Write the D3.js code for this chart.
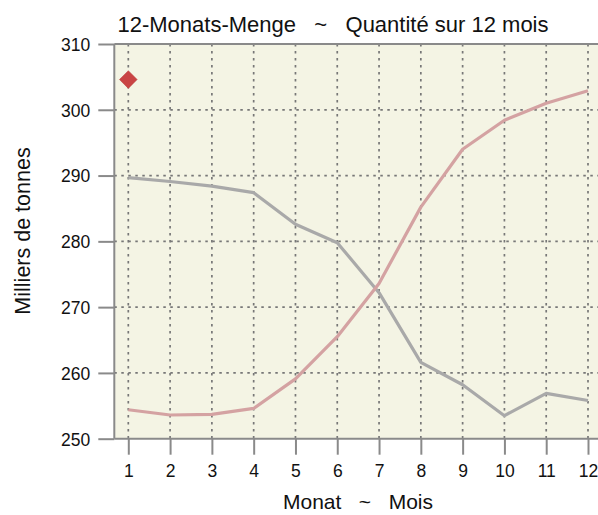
<!DOCTYPE html>
<html>
<head>
<meta charset="utf-8">
<script src="https://cdn.jsdelivr.net/npm/d3@7"></script>
<style>
html,body{margin:0;padding:0;background:#fff;}
svg{display:block;font-family:"Liberation Sans",Arial,sans-serif;}
text{white-space:pre;}
</style>
</head>
<body>
<svg id="chart" width="598" height="515"></svg>
<script>
const months = [1,2,3,4,5,6,7,8,9,10,11,12];
const seriesGray = [289.7, 289.1, 288.4, 287.4, 282.6, 279.8, 272.2, 261.6, 258.2, 253.5, 256.9, 255.8];
const seriesPink = [254.4, 253.6, 253.7, 254.6, 259.1, 265.5, 273.6, 285.2, 294.0, 298.4, 301.0, 302.9];
const markerPoint = [{month: 1, value: 304.6}];
const yTicks = [250, 260, 270, 280, 290, 300, 310];
const titleText = "12-Monats-Menge   ~   Quantité sur 12 mois";
const xTitleText = "Monat   ~   Mois";
const yTitleText = "Milliers de tonnes";

const svg = d3.select("#chart");
const x = d3.scaleLinear().domain([1, 12]).range([128.3, 588]);
const y = d3.scaleLinear().domain([250, 310]).range([438.7, 44]);
const xLeft = x(0.665), xRight = x(12.335);

// background
svg.append("rect").attr("x", xLeft).attr("y", y(310)).attr("width", xRight - xLeft)
  .attr("height", y(250) - y(310)).attr("fill", "#f4f4e4");

// grid
const grid = svg.append("g").attr("stroke", "#777").attr("stroke-width", 1.7).attr("stroke-dasharray", "2.5,4.5");
grid.selectAll("line.v").data(months).join("line")
  .attr("x1", d => x(d)).attr("x2", d => x(d)).attr("y1", y(310)).attr("y2", y(250));
grid.selectAll("line.h").data(yTicks.filter(t => t > 250 && t < 310)).join("line")
  .attr("x1", xLeft).attr("x2", xRight).attr("y1", d => y(d)).attr("y2", d => y(d));

// axes
const axisColor = "#8a8a8a";
const yAxis = svg.append("g").attr("transform", `translate(${xLeft},0)`)
  .call(d3.axisLeft(y).tickValues(yTicks).tickSize(16).tickPadding(8).tickFormat(d3.format("d")));
const xAxis = svg.append("g").attr("transform", `translate(0,${y(250)})`)
  .call(d3.axisBottom(x).tickValues(months).tickSize(16).tickPadding(10).tickFormat(d3.format("d")));
[yAxis, xAxis].forEach(a => {
  a.select(".domain").remove();
  a.selectAll(".tick line").attr("stroke", axisColor).attr("stroke-width", 2);
  a.selectAll(".tick text").attr("fill", "#111").attr("font-size", 17.5).attr("font-family", "Liberation Sans, Arial, sans-serif");
});
yAxis.selectAll(".tick text").attr("dy", "0.36em");
// axis lines
svg.append("line").attr("x1", xLeft).attr("x2", xLeft).attr("y1", y(310)).attr("y2", y(250))
  .attr("stroke", axisColor).attr("stroke-width", 2);
svg.append("line").attr("x1", xLeft).attr("x2", xRight).attr("y1", y(250)).attr("y2", y(250))
  .attr("stroke", axisColor).attr("stroke-width", 2);
svg.append("line").attr("x1", xLeft).attr("x2", xRight).attr("y1", y(310)).attr("y2", y(310))
  .attr("stroke", axisColor).attr("stroke-width", 2);

// lines
const line = d3.line().x((d, i) => x(months[i])).y(d => y(d));
svg.append("path").datum(seriesGray).attr("d", line).attr("fill", "none")
  .attr("stroke", "#a9a9a9").attr("stroke-width", 3.2).attr("stroke-linejoin", "round");
svg.append("path").datum(seriesPink).attr("d", line).attr("fill", "none")
  .attr("stroke", "#d4a2a2").attr("stroke-width", 3.2).attr("stroke-linejoin", "round");

// marker
svg.selectAll("path.mk").data(markerPoint).join("path")
  .attr("d", d3.symbol().type(d3.symbolDiamond2).size(200))
  .attr("transform", d => `translate(${x(d.month)},${y(d.value)})`)
  .attr("fill", "#c94444").attr("stroke", "#b83a3a").attr("stroke-width", 0.5);

// titles
svg.append("text").attr("x", 333).attr("y", 32).attr("text-anchor", "middle")
  .attr("font-size", 22).attr("fill", "#111").text(titleText);
svg.append("text").attr("x", 358).attr("y", 509).attr("text-anchor", "middle")
  .attr("font-size", 21).attr("fill", "#111").text(xTitleText);
svg.append("text").attr("transform", "translate(30,231) rotate(-90)").attr("text-anchor", "middle")
  .attr("font-size", 21.5).attr("fill", "#111").text(yTitleText);
</script>
</body>
</html>
